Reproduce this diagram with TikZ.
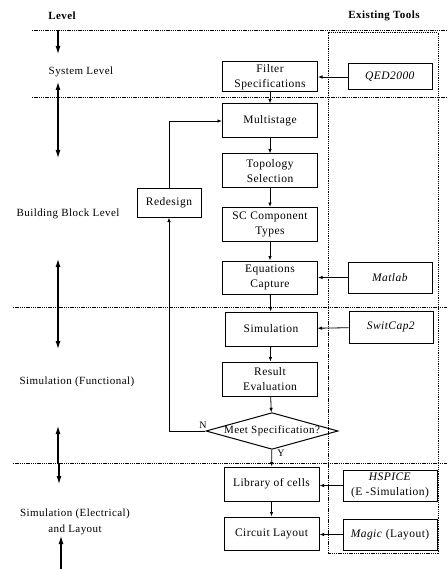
\documentclass[tikz,border=0pt]{standalone}
\usepackage{fontspec}
\setmainfont{Liberation Serif}[LetterSpace=4]
\usetikzlibrary{arrows.meta,shapes.geometric}

\begin{document}
\begin{tikzpicture}[x=1pt,y=-1pt,
    box/.style={draw, line width=1pt, align=center, inner sep=1pt,
        font=\fontsize{11.5}{14.5}\selectfont},
    mainbox/.style={box, minimum width=95pt, minimum height=34pt},
    toolbox/.style={box, minimum width=84pt, minimum height=30pt},
    lvl/.style={align=center, font=\fontsize{11}{16}\selectfont},
    flow/.style={-{Latex[length=4.5pt,width=3.5pt]}, line width=0.8pt},
    lvlarrow/.style={-{Latex[length=8pt,width=5pt]}, line width=1.1pt},
    sep/.style={dash pattern=on 1.3pt off 0.9pt, line width=1pt}]
    \useasboundingbox (0,0) rectangle (447,569);

    % Headings
    \node[font=\bfseries\fontsize{11}{13}\selectfont] (hlevel) at (62,16) {Level};
    \node[font=\bfseries\fontsize{11}{13}\selectfont] (htools) at (384,16) {Existing Tools};

    % Level separators
    \draw[sep] (32,31) -- (447,31);
    \draw[sep] (32,98) -- (447,98);
    \draw[sep] (13,307) -- (447,307);
    \draw[sep] (13,463) -- (447,463);

    % Tools column
    \draw[sep] (328,33) rectangle (438,553);

    % Level names
    \node[lvl] (syslvl) at (81,72) {System Level};
    \node[lvl] (bblvl) at (68,214) {Building Block Level};
    \node[lvl] (funlvl) at (77,382) {Simulation (Functional)};
    \node[lvl] (elelvl) at (75,522) {Simulation (Electrical)\\and Layout};

    % Level arrows
    \coordinate (a1) at (58,31);  \coordinate (a1e) at (58,54);
    \coordinate (a2) at (58,98);  \coordinate (a2e) at (58,82);
    \coordinate (a3) at (58,98);  \coordinate (a3e) at (58,158);
    \coordinate (a4) at (58,307); \coordinate (a4e) at (58,259);
    \coordinate (a5) at (58,307); \coordinate (a5e) at (58,349);
    \coordinate (a6) at (58,463); \coordinate (a6e) at (58,426);
    \coordinate (a7) at (59,463); \coordinate (a7e) at (59,484);
    \coordinate (a8) at (61,569); \coordinate (a8e) at (61,536);
    \foreach \s/\e in {a1/a1e, a2/a2e, a3/a3e, a4/a4e, a5/a5e, a6/a6e, a7/a7e, a8/a8e}
        \draw[lvlarrow] (\s) -- (\e);

    % Design flow
    \node[mainbox, minimum height=30pt] (filt) at (270,77) {Filter\\Specifications};
    \node[mainbox] (multi) at (270,121) {Multistage};
    \node[mainbox] (topo) at (270,171) {Topology\\Selection};
    \node[mainbox] (scc) at (270,224.5) {SC Component\\Types};
    \node[mainbox, minimum height=33pt] (eqcap) at (270,277.5) {Equations\\Capture};
    \node[mainbox, minimum width=92pt] (sim) at (271,329) {Simulation};
    \node[mainbox] (reseval) at (270,379) {Result\\Evaluation};
    \node[draw, diamond, aspect=3.6, line width=1pt, inner sep=0pt, minimum width=130pt,
        minimum height=36pt, font=\fontsize{11}{13}\selectfont] (meet) at (272,431) {Meet Specification?};
    \node[mainbox] (lib) at (271.5,484) {Library of cells};
    \node[mainbox, minimum height=33pt] (layout) at (271.5,533.5) {Circuit Layout};
    \node[box, minimum width=64pt, minimum height=28pt] (redesign) at (169,203) {Redesign};

    \draw[flow] (filt) -- (multi);
    \draw[flow] (multi) -- (topo);
    \draw[flow] (topo) -- (scc);
    \draw[flow] (scc) -- (eqcap);
    \draw[flow] (eqcap) -- (sim);
    \draw[flow] (sim) -- (reseval);
    \draw[flow] (reseval) -- (meet);
    \draw[flow] (meet) -- (lib);
    \draw[flow] (lib) -- (layout);
    \draw[flow] (meet.west) -| (redesign.south);
    \draw[flow] (redesign.north) |- (multi.west);
    \node[font=\fontsize{10}{12}\selectfont] (nlab) at (203,425) {N};
    \node[font=\fontsize{10}{12}\selectfont] (ylab) at (281,453) {Y};

    % Tools
    \node[toolbox, minimum height=26pt] (qed) at (390,77) {\textit{QED2000}};
    \node[toolbox, minimum height=31pt] (matlab) at (390,277.5) {\textit{Matlab}};
    \node[toolbox, minimum height=32pt] (switcap) at (391,327) {\textit{SwitCap2}};
    \node[toolbox, minimum width=94pt, minimum height=31pt] (hspice) at (390,485.5) {\textit{HSPICE}\\(E -Simulation)};
    \node[toolbox, minimum width=94pt, minimum height=31pt] (magic) at (390,534.5) {\textit{Magic} (Layout)};

    \draw[flow] (qed) -- (filt);
    \draw[flow] (matlab) -- (eqcap);
    \draw[flow] (switcap) -- (sim);
    \draw[flow] (hspice.west) -- (lib.east |- hspice.west);
    \draw[flow] (magic.west) -- (layout.east |- magic.west);
\end{tikzpicture}
\end{document}
